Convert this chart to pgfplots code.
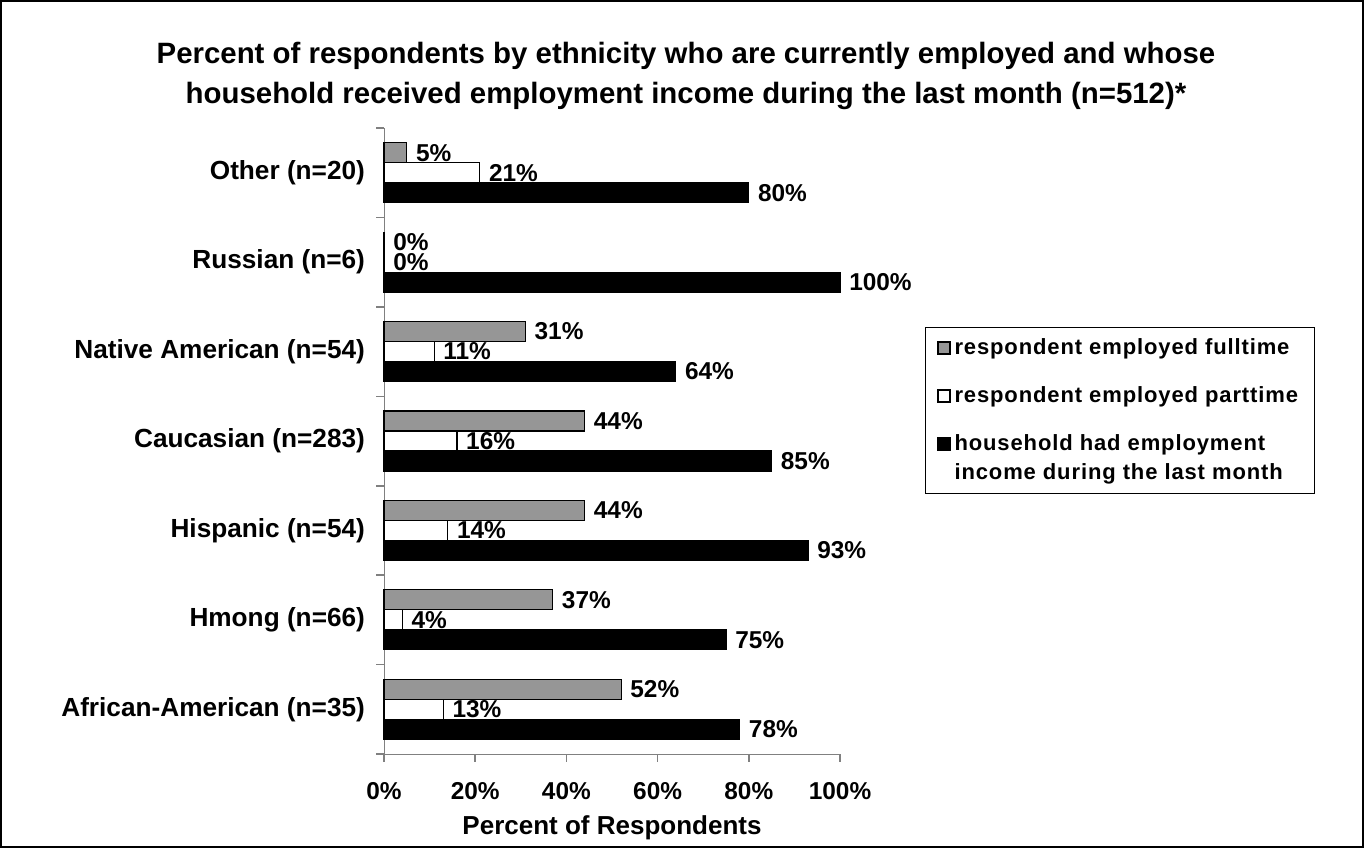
\documentclass[border=0pt]{standalone}
\usepackage{pgfplots}
\pgfplotsset{compat=1.18}
\usepackage{fontspec}
\setmainfont{Liberation Sans}
\definecolor{bargrey}{HTML}{969696}
\definecolor{axgrey}{HTML}{808080}
\begin{document}
\begin{tikzpicture}
\useasboundingbox (0pt,0pt) rectangle (682pt,424pt);
\draw[black,line width=0.8pt] (0.4pt,0.4pt) rectangle (681.6pt,423.6pt);
\node[align=center,font=\fontsize{14.7}{20}\selectfont\bfseries] at (343pt,386pt)
  {Percent of respondents by ethnicity who are currently employed and whose\\
   household received employment income during the last month (n=512)*};
\begin{axis}[
  at={(192pt,47pt)}, anchor=south west,
  scale only axis, width=228pt, height=313pt,
  xmin=0, xmax=100, ymin=-0.5, ymax=6.5,
  axis x line*=bottom, axis y line*=left,
  axis line style={axgrey,-},
  xbar, bar width=10pt,
  /pgf/number format/assume math mode=true,
  xtick={0,20,40,60,80,100},
  xticklabel={\pgfmathprintnumber{\tick}\%},
  x tick label style={font=\fontsize{12.2}{14}\selectfont\bfseries, yshift=-7pt},
  ytick={-0.5,0.5,...,6.5}, yticklabels={},
  extra y ticks={0,1,2,3,4,5,6},
  extra y tick labels={African-American (n=35),Hmong (n=66),Hispanic (n=54),Caucasian (n=283),Native American (n=54),Russian (n=6),Other (n=20)},
  extra y tick style={major tick length=0pt, tick label style={font=\fontsize{13.1}{15}\selectfont\bfseries, xshift=-6pt}},
  tick align=outside, major tick length=3.8pt,
  tick style={axgrey, line width=0.8pt},
  xlabel={Percent of Respondents},
  xlabel style={font=\fontsize{13}{15}\selectfont\bfseries, yshift=-1pt},
  nodes near coords={\pgfmathprintnumber{\pgfplotspointmeta}\%},
  nodes near coords style={font=\fontsize{12.2}{14}\selectfont\bfseries, anchor=west, xshift=1pt},
  legend style={at={(1.186,0.682)}, anchor=north west, draw=black, line width=0.5pt,
    font=\fontsize{11}{14.5}\selectfont\bfseries\addfontfeature{LetterSpace=4}, row sep=10.5pt, inner xsep=6pt, inner ysep=3.5pt,
    cells={align=left}},
  legend cell align=left,
  legend image code/.code={\draw[#1,draw=black,line width=0.6pt] (0pt,-3pt) rectangle (6pt,3pt);},
  clip=false,
]
\addplot[fill=bargrey, draw=black, line width=0.6pt, bar shift=10pt] coordinates {
  (52,0) (37,1) (44,2) (44,3) (31,4) (0,5) (5,6)};
\addplot[fill=white, draw=black, line width=0.6pt, bar shift=0pt] coordinates {
  (13,0) (4,1) (14,2) (16,3) (11,4) (0,5) (21,6)};
\addplot[fill=black, draw=black, line width=0.6pt, bar shift=-10pt,
  legend image post style={yshift=7.25pt}] coordinates {
  (78,0) (75,1) (93,2) (85,3) (64,4) (100,5) (80,6)};
\legend{respondent employed fulltime, respondent employed parttime, {household had employment\\income during the last month}}
\end{axis}
\end{tikzpicture}
\end{document}
